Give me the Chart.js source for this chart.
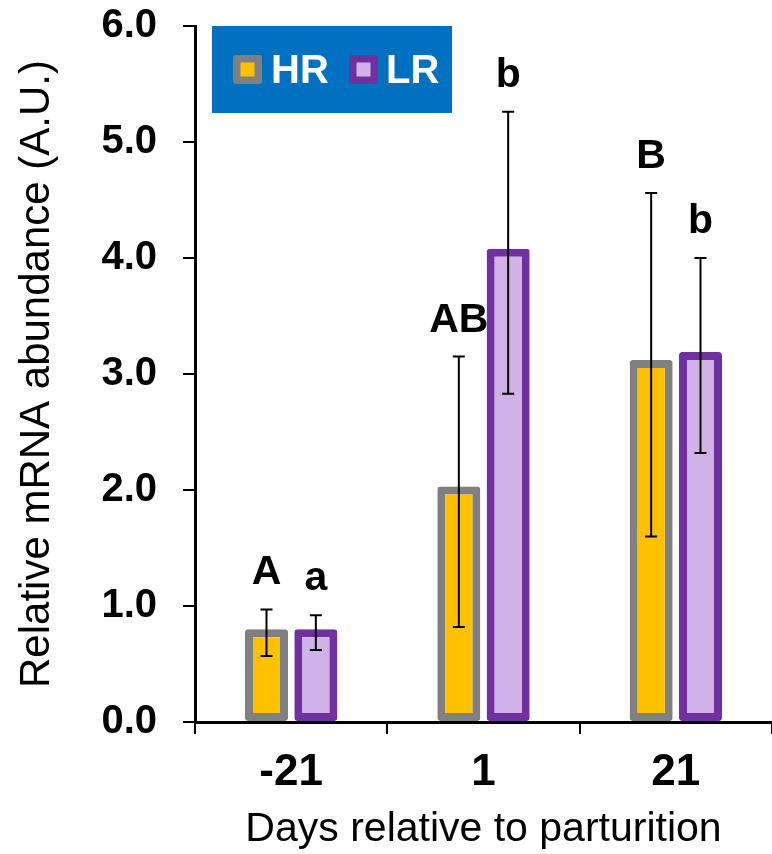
<!DOCTYPE html>
<html>
<head>
<meta charset="utf-8">
<title>Relative mRNA abundance</title>
<script src="https://cdn.jsdelivr.net/npm/chart.js@4.4.1/dist/chart.umd.min.js"></script>
<style>
  html, body { margin: 0; padding: 0; background: #fff; }
  #wrap { width: 772px; height: 854px; }
</style>
</head>
<body>
<div id="wrap"><canvas id="barChart" width="772" height="854"></canvas></div>
<script>
// data
const days = ["-21", "1", "21"];
const hrMean = [0.80, 2.03, 3.12];
const lrMean = [0.80, 4.08, 3.19];
const hrLow = [0.57, 0.82, 1.60];
const hrHigh = [0.97, 3.15, 4.56];
const lrLow = [0.62, 2.83, 2.32];
const lrHigh = [0.92, 5.26, 4.00];
const hrLetters = ["A", "AB", "B"];
const lrLetters = ["a", "b", "b"];
const yTicks = [0, 1, 2, 3, 4, 5, 6];

const FONT = "'Liberation Sans', Arial, sans-serif";

// whiskers + significance letters
const errorBars = {
  id: "errorBars",
  afterDatasetsDraw(chart) {
    const ctx = chart.ctx;
    const y = chart.scales.y;
    chart.data.datasets.forEach((ds, i) => {
      const meta = chart.getDatasetMeta(i);
      meta.data.forEach((bar, j) => {
        const top = y.getPixelForValue(ds.errHigh[j]);
        const bot = y.getPixelForValue(ds.errLow[j]);
        ctx.save();
        ctx.strokeStyle = "#000";
        ctx.lineWidth = 2;
        ctx.beginPath();
        ctx.moveTo(bar.x, top); ctx.lineTo(bar.x, bot);
        ctx.moveTo(bar.x - 6, top); ctx.lineTo(bar.x + 6, top);
        ctx.moveTo(bar.x - 6, bot); ctx.lineTo(bar.x + 6, bot);
        ctx.stroke();
        ctx.font = "bold 41px " + FONT;
        ctx.fillStyle = "#000";
        ctx.textAlign = "center";
        ctx.textBaseline = "alphabetic";
        ctx.fillText(ds.letters[j], bar.x, top - 25);
        ctx.restore();
      });
    });
  }
};

// blue legend box in the top left corner
const boxLegend = {
  id: "boxLegend",
  afterDraw(chart) {
    const ctx = chart.ctx;
    const spots = [[233, 271], [349, 386]];
    ctx.save();
    ctx.fillStyle = "#0070C0";
    ctx.fillRect(212, 26, 240, 87);
    chart.data.datasets.forEach((ds, i) => {
      const sx = spots[i][0];
      ctx.fillStyle = ds.borderColor;
      ctx.beginPath();
      ctx.roundRect(sx, 55, 29, 29, 3);
      ctx.fill();
      ctx.fillStyle = ds.backgroundColor;
      ctx.fillRect(sx + 7.5, 62.5, 14, 14);
      ctx.fillStyle = "#fff";
      ctx.font = "bold 40px " + FONT;
      ctx.textAlign = "left";
      ctx.textBaseline = "alphabetic";
      ctx.fillText(ds.label, spots[i][1], 83);
    });
    ctx.restore();
  }
};

new Chart(document.getElementById("barChart"), {
  type: "bar",
  data: {
    labels: days,
    datasets: [
      {
        label: "HR",
        data: hrMean,
        errLow: hrLow,
        errHigh: hrHigh,
        letters: hrLetters,
        backgroundColor: "#FFC000",
        borderColor: "#808080",
        borderWidth: 8,
        borderRadius: 3,
        borderSkipped: false
      },
      {
        label: "LR",
        data: lrMean,
        errLow: lrLow,
        errHigh: lrHigh,
        letters: lrLetters,
        backgroundColor: "#D0B2E8",
        borderColor: "#7030A0",
        borderWidth: 8,
        borderRadius: 3,
        borderSkipped: false
      }
    ]
  },
  options: {
    responsive: false,
    animation: false,
    barPercentage: 0.872,
    categoryPercentage: 0.513,
    layout: { padding: { top: 26, right: 0, left: 0, bottom: 0 } },
    plugins: {
      legend: { display: false },
      tooltip: { enabled: false }
    },
    scales: {
      x: {
        grid: { display: true, drawOnChartArea: false, offset: true, color: "#000", lineWidth: 2, tickLength: 12 },
        border: { display: true, color: "#000", width: 3 },
        ticks: { color: "#000", font: { family: FONT, size: 44, weight: "bold" }, padding: 12 },
        title: {
          display: true,
          text: "Days relative to parturition",
          color: "#000",
          font: { family: FONT, size: 41 },
          padding: { top: 2, bottom: 0 }
        },
        afterFit: (s) => { s.height = 132; s.paddingLeft = 0; s.paddingRight = 0; }
      },
      y: {
        min: 0,
        max: 6,
        afterBuildTicks: (s) => { s.ticks = yTicks.map(v => ({ value: v })); },
        grid: { display: true, drawOnChartArea: false, color: "#000", lineWidth: 2, tickLength: 12 },
        border: { display: true, color: "#000", width: 3 },
        ticks: {
          color: "#000",
          font: { family: FONT, size: 40, weight: "bold" },
          padding: 26,
          callback: (v) => Number(v).toFixed(1)
        },
        title: {
          display: true,
          text: "Relative mRNA abundance (A.U.)",
          color: "#000",
          font: { family: FONT, size: 42 },
          padding: { top: 12, bottom: 0 }
        },
        afterFit: (s) => { s.width = 195; s.paddingTop = 0; s.paddingBottom = 0; }
      }
    }
  },
  plugins: [errorBars, boxLegend]
});
</script>
</body>
</html>
